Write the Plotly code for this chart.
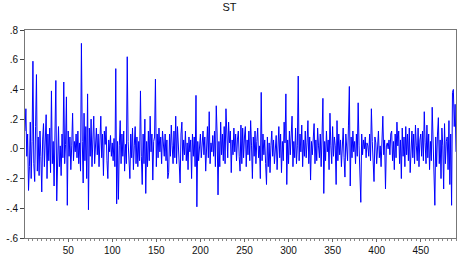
import plotly.graph_objects as go

obs = list(range(1, 491))
st = [
    0.12, 0.27, -0.05, 0.10, -0.28, -0.12, 0.18, -0.20, 0.05, 0.59,
    -0.10, -0.22, 0.15, 0.50, -0.15, 0.08, -0.18, 0.12, -0.05, -0.29,
    0.06, 0.17, -0.12, 0.03, 0.23, -0.20, 0.10, -0.08, 0.14, -0.16,
    0.39, -0.10, 0.05, -0.25, 0.12, 0.46, -0.35, 0.08, 0.15, -0.12,
    0.02, -0.18, 0.10, -0.06, 0.45, -0.10, 0.03, 0.35, -0.38, 0.12,
    -0.05, 0.08, -0.14, 0.02, 0.24, -0.08, 0.05, -0.02, 0.10, -0.06,
    0.12, -0.10, 0.04, -0.15, 0.71, 0.05, -0.23, 0.24, -0.08, 0.15,
    -0.20, 0.37, -0.41, 0.14, -0.05, 0.20, -0.12, 0.06, 0.22, -0.10,
    0.08, 0.14, -0.04, 0.10, -0.12, 0.05, 0.22, -0.06, 0.10, -0.18,
    0.12, 0.03, 0.15, -0.08, -0.20, 0.06, -0.02, 0.09, -0.05, 0.04,
    -0.08, 0.07, -0.12, 0.54, -0.37, 0.05, -0.34, 0.02, 0.19, -0.10,
    0.10, -0.05, 0.12, -0.15, 0.03, -0.10, 0.62, 0.05, -0.08, -0.20,
    0.10, -0.06, 0.14, -0.14, 0.02, 0.15, -0.10, 0.08, -0.12, 0.05,
    -0.08, 0.39, -0.05, -0.24, 0.10, -0.10, 0.20, -0.30, 0.05, -0.12,
    0.12, -0.08, 0.22, -0.02, 0.10, -0.21, 0.05, 0.08, 0.47, -0.12,
    0.10, -0.06, 0.14, -0.02, 0.08, -0.10, 0.12, 0.02, -0.05, 0.10,
    -0.08, 0.06, -0.20, -0.16, 0.10, -0.05, 0.16, 0.02, -0.10, 0.12,
    -0.06, 0.22, -0.10, 0.15, 0.05, -0.12, -0.23, 0.10, 0.18, -0.08,
    0.06, -0.04, 0.12, -0.08, 0.04, -0.14, 0.08, -0.02, 0.06, -0.20,
    0.10, -0.05, 0.08, -0.12, 0.36, -0.39, 0.05, -0.08, 0.02, 0.10,
    -0.06, 0.04, 0.12, -0.04, 0.08, -0.15, 0.05, 0.15, -0.06, 0.25,
    -0.10, 0.04, -0.02, 0.09, -0.05, 0.12, -0.12, 0.29, 0.10, -0.31,
    0.05, -0.12, 0.18, -0.04, 0.10, -0.08, 0.15, -0.10, 0.27, 0.02,
    -0.06, 0.18, 0.04, 0.12, -0.16, 0.06, -0.04, 0.14, -0.02, 0.10,
    -0.08, 0.06, 0.12, -0.05, -0.15, 0.16, -0.10, 0.14, -0.06, 0.08,
    0.15, -0.12, 0.06, -0.04, 0.12, -0.08, 0.19, 0.02, -0.20, 0.08,
    -0.05, 0.12, -0.10, 0.05, 0.14, -0.06, 0.02, -0.20, 0.38, -0.08,
    0.10, -0.04, 0.06, -0.10, -0.24, 0.08, -0.12, 0.04, -0.16, 0.02,
    0.12, -0.05, 0.06, -0.10, 0.02, 0.09, -0.14, 0.05, 0.15, -0.06,
    0.10, -0.16, 0.05, -0.08, 0.18, 0.04, 0.37, -0.24, 0.06, -0.10,
    0.12, -0.04, 0.08, 0.22, -0.12, 0.05, -0.06, 0.14, -0.10, 0.02,
    0.49, -0.08, 0.10, -0.02, 0.16, -0.12, 0.06, -0.05, 0.12, -0.06,
    0.04, 0.19, -0.10, 0.08, -0.21, 0.05, -0.04, 0.10, 0.17, -0.10,
    0.06, -0.08, 0.14, 0.02, -0.06, 0.10, -0.12, 0.08, 0.34, -0.30,
    0.05, -0.08, 0.12, -0.02, 0.06, -0.14, 0.24, 0.02, -0.10, 0.15,
    -0.05, 0.08, 0.02, -0.24, 0.19, -0.08, 0.10, -0.04, 0.06, -0.12,
    0.04, 0.14, -0.06, -0.19, 0.10, 0.02, -0.08, 0.16, 0.42, -0.25,
    0.08, -0.06, 0.12, -0.02, 0.05, -0.10, 0.10, -0.05, 0.31, 0.02,
    -0.14, -0.36, 0.10, -0.04, 0.06, 0.00, 0.08, -0.06, 0.04, 0.02,
    -0.05, 0.10, -0.08, 0.27, 0.05, -0.12, -0.22, 0.08, 0.04, -0.10,
    0.06, 0.12, -0.06, 0.02, -0.12, 0.10, 0.22, -0.04, 0.06, -0.27,
    0.02, 0.04, 0.00, 0.06, -0.04, 0.10, 0.12, -0.08, 0.05, -0.14,
    0.10, -0.06, 0.18, 0.02, 0.12, -0.10, 0.06, -0.20, 0.14, -0.05,
    0.08, -0.12, 0.15, -0.04, 0.10, -0.08, 0.14, -0.16, 0.05, 0.12,
    -0.06, 0.10, -0.10, 0.16, 0.02, -0.08, 0.14, -0.12, 0.06, 0.10,
    -0.05, 0.12, -0.08, 0.25, 0.04, -0.10, 0.16, -0.06, 0.10, -0.14,
    0.05, -0.08, 0.28, 0.02, -0.10, -0.38, 0.08, -0.12, 0.10, 0.21,
    -0.10, 0.06, -0.20, 0.14, 0.02, -0.27, 0.17, -0.10, 0.05, 0.08,
    -0.14, 0.19, -0.24, 0.10, -0.38, 0.38, 0.40, 0.15, 0.30, -0.02,
]

y_ticks = [0.8, 0.6, 0.4, 0.2, 0.0, -0.2, -0.4, -0.6]
y_labels = [".8", ".6", ".4", ".2", ".0", "-.2", "-.4", "-.6"]
x_ticks = [50, 100, 150, 200, 250, 300, 350, 400, 450]
x_labels = [str(v) for v in x_ticks]

fig = go.Figure(go.Scatter(
    x=obs, y=st, mode="lines",
    line=dict(color="#0000FF", width=1),
    showlegend=False, hoverinfo="skip"
))

fig.update_layout(
    width=459, height=258,
    margin=dict(l=25, r=2, t=30, b=17),
    paper_bgcolor="white", plot_bgcolor="white",
    font=dict(family="Liberation Sans, Arial, sans-serif", size=10, color="#111"),
    title=dict(text="ST", x=0.5, xanchor="center", y=0.973, yanchor="middle",
               font=dict(size=11, color="#111")),
)
fig.update_xaxes(
    range=[1, 490], tickmode="array", tickvals=x_ticks, ticktext=x_labels,
    ticks="outside", ticklen=3, tickcolor="#666", tickwidth=1,
    minor=dict(dtick=5, tick0=0, ticks="outside", ticklen=2, tickcolor="#888"),
    showgrid=False, zeroline=False,
    showline=True, linecolor="#777", linewidth=1, mirror=True,
    tickfont=dict(size=10),
)
fig.update_yaxes(
    range=[-0.6, 0.8], tickmode="array", tickvals=y_ticks, ticktext=y_labels,
    ticks="outside", ticklen=4, tickcolor="#444", tickwidth=1,
    showgrid=False, zeroline=False,
    showline=True, linecolor="#777", linewidth=1, mirror=True,
    tickfont=dict(size=10),
)

fig.write_html(
    "out.html",
    config={"displayModeBar": False, "staticPlot": True},
    post_script="document.body.style.margin='0';document.body.style.overflow='hidden';",
)
